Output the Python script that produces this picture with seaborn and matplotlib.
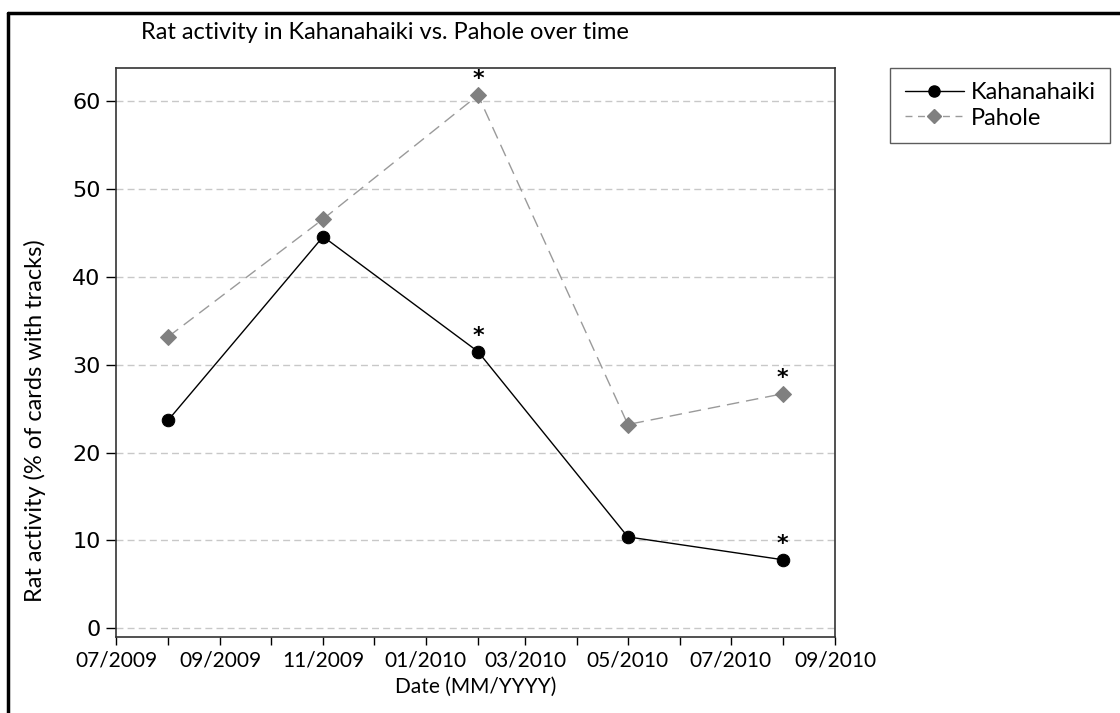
import matplotlib
matplotlib.use("Agg")
import matplotlib.pyplot as plt
import matplotlib.dates as mdates
from matplotlib.lines import Line2D
import seaborn as sns
import pandas as pd

# Survey dates (quarterly tracking-card checks)
dates = ["2009-08-01", "2009-11-01", "2010-02-01", "2010-05-01", "2010-08-01"]
kahanahaiki = [23.7, 44.6, 31.5, 10.4, 7.8]
pahole = [33.2, 46.6, 60.7, 23.2, 26.7]
# Significant differences marked with an asterisk
significant = [False, False, True, False, True]

df = pd.DataFrame({
    "date": pd.to_datetime(dates * 2),
    "activity": kahanahaiki + pahole,
    "site": ["Kahanahaiki"] * len(dates) + ["Pahole"] * len(dates),
})

sns.set_theme(style="white")
plt.rcParams["font.family"] = ["Lato", "DejaVu Sans"]
plt.rcParams["text.color"] = "black"
plt.rcParams["axes.labelcolor"] = "black"
plt.rcParams["xtick.color"] = "black"
plt.rcParams["ytick.color"] = "black"

fig = plt.figure(figsize=(11.2, 7.13), dpi=100)
ax = fig.add_axes([0.1036, 0.1066, 0.6419, 0.798])

k = df[df.site == "Kahanahaiki"]
p = df[df.site == "Pahole"]
sns.lineplot(data=p, x="date", y="activity", ax=ax, color="#9a9a9a",
             linewidth=1.0, marker="D", markersize=8,
             markerfacecolor="#808080", markeredgecolor="#808080", zorder=3)
ax.lines[-1].set_linestyle((0, (9, 5)))
sns.lineplot(data=k, x="date", y="activity", ax=ax, color="black",
             linewidth=1.0, marker="o", markersize=9,
             markeredgecolor="black", zorder=4)

for d, kv, pv, s in zip(pd.to_datetime(dates), kahanahaiki, pahole, significant):
    if s:
        for v in (kv, pv):
            ax.annotate("*", (d, v), xytext=(0, 11.5), textcoords="offset points",
                        ha="center", va="center", fontsize=16,
                        fontweight="bold", family="DejaVu Sans")

ax.set_ylim(-1.0, 63.8)
ax.set_yticks(range(0, 61, 10))
ax.yaxis.grid(True, linestyle=(0, (5, 3)), color="#c8c8c8", linewidth=1.0)
ax.xaxis.grid(False)

ax.set_xlim(pd.Timestamp("2009-07-01"), pd.Timestamp("2010-09-01"))
ax.xaxis.set_major_locator(mdates.MonthLocator(bymonth=[1, 3, 5, 7, 9, 11]))
ax.xaxis.set_minor_locator(mdates.MonthLocator())
ax.xaxis.set_major_formatter(mdates.DateFormatter("%m/%Y"))

ax.tick_params(axis="x", which="both", direction="out", length=6, width=1,
               color="black", bottom=True, labelsize=15, pad=4)
ax.tick_params(axis="y", direction="out", length=7, width=1, color="black",
               left=True, labelsize=16, pad=4)
for lbl in ax.get_yticklabels():
    lbl.set_family("DejaVu Sans")

for s in ax.spines.values():
    s.set_color("#333333")
    s.set_linewidth(1.2)

ax.set_xlabel("Date (MM/YYYY)", fontsize=15, labelpad=4)
ax.set_ylabel("Rat activity (% of cards with tracks)", fontsize=17)
ax.yaxis.set_label_coords(-0.097, 0.38)
fig.text(0.3436, 0.955, "Rat activity in Kahanahaiki vs. Pahole over time",
         ha="center", va="center", fontsize=17)

handles = [
    Line2D([], [], color="black", linewidth=1.0, marker="o", markersize=8),
    Line2D([], [], color="#9a9a9a", linewidth=1.0, linestyle=(0, (5, 4)),
           marker="D", markersize=7, markerfacecolor="#808080",
           markeredgecolor="#808080"),
]
leg = fig.legend(handles, ["Kahanahaiki", "Pahole"], loc="upper left",
                 bbox_to_anchor=(0.795, 0.905), frameon=True, fontsize=17,
                 handlelength=2.5, fancybox=False, borderpad=0.6,
                 borderaxespad=0, labelspacing=0.2, handletextpad=0.3)
leg.get_frame().set_edgecolor("#333333")
leg.get_frame().set_linewidth(1.0)

# Page frame
fig.add_artist(Line2D([0.007, 1.0], [0.982, 0.982], transform=fig.transFigure,
                      color="black", linewidth=2.5))
fig.add_artist(Line2D([0.007, 0.007], [0.0, 0.982], transform=fig.transFigure,
                      color="black", linewidth=2.5))

fig.savefig("out.png", dpi=100)
